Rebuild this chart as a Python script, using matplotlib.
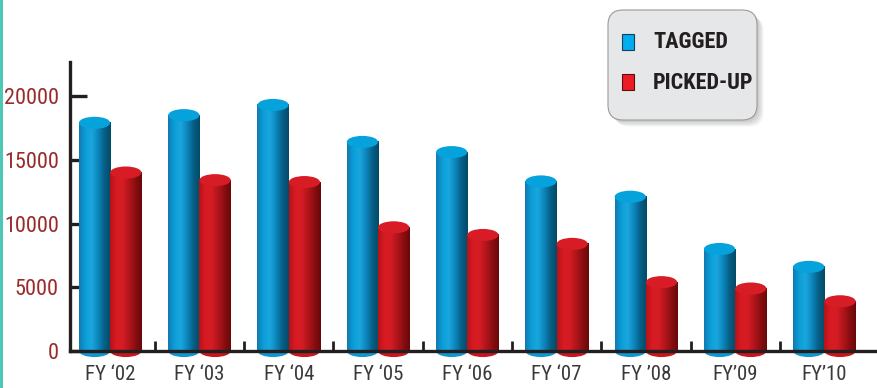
import os
import numpy as np
import matplotlib
matplotlib.use("Agg")
import matplotlib.pyplot as plt
from matplotlib import font_manager
from matplotlib.font_manager import FontProperties
from matplotlib.colors import LinearSegmentedColormap
from matplotlib.patches import Ellipse, FancyBboxPatch, Rectangle

# data
years = ["FY \u201802", "FY \u201803", "FY \u201804", "FY \u201805", "FY \u201806",
         "FY \u201807", "FY \u201908", "FY\u201909", "FY\u201910"]
tagged = [17900, 18500, 19300, 16400, 15600, 13300, 12100, 8000, 6600]
picked_up = [14000, 13400, 13250, 9700, 9100, 8400, 5400, 4900, 3900]
y_ticks = [0, 5000, 10000, 15000, 20000]


def weight_of(f):
    if isinstance(f.weight, int):
        return f.weight
    return font_manager.weight_dict.get(str(f.weight).lower(), 400)


# look for the narrowest sans installed; fall back to DejaVu Sans
def find_narrow(bold):
    scored = []
    for f in font_manager.fontManager.ttflist:
        base = os.path.basename(f.fname).lower()
        key = (f.name + " " + base).lower()
        narrow = ("narrow" in key or "condensed" in key
                  or f.stretch in ("condensed", "semi-condensed", "extra-condensed"))
        if not narrow or "italic" in key or "oblique" in key or "mono" in key:
            continue
        wt = weight_of(f)
        score = 0
        if "liberation" in key:
            score += 6
        elif "roboto" in key:
            score += 5
        elif "dejavu" in key:
            score -= 2
        if "semi" in key:
            score -= 4
        has_bold = "bold" in base and "semi" not in base and "extra" not in base
        if bold:
            score += (3 if has_bold else -6) + (1 if wt >= 700 else 0)
        else:
            score += (2 if ("regular" in base or wt == 400) else 0)
            score -= 6 if ("bold" in base or "light" in base or "thin" in base
                           or "black" in base or "medium" in base) else 0
        scored.append((score, f.fname))
    if not scored:
        return None
    scored.sort(key=lambda t: -t[0])
    return scored[0][1]


reg_file = find_narrow(False)
bold_file = find_narrow(True)
if reg_file:
    fp_y = FontProperties(fname=reg_file, size=16)
    fp_x = FontProperties(fname=reg_file, size=15)
else:
    fp_y = FontProperties(family="DejaVu Sans", size=12)
    fp_x = FontProperties(family="DejaVu Sans", size=12)
if bold_file:
    fp_leg = FontProperties(fname=bold_file, size=16, weight="bold")
else:
    fp_leg = FontProperties(family="DejaVu Sans", weight="bold", size=12)

blue_cm = LinearSegmentedColormap.from_list(
    "b", ["#1479b0", "#0a9fd9", "#1ba6dd", "#0c86bd", "#075f86", "#044a68"])
red_cm = LinearSegmentedColormap.from_list(
    "r", ["#b51319", "#d91b23", "#d41c24", "#b1151b", "#8a0e12", "#690809"])
grad = np.linspace(0, 1, 64).reshape(1, -1)

fig = plt.figure(figsize=(8.78, 3.88), dpi=100)
ax = fig.add_axes([70 / 878, 37 / 388, 808 / 878, 289 / 388])

w = 0.35
cap = 950  # ellipse height in data units


def cylinder(xc, h, cmap, top_col, bot_col):
    x0, x1 = xc - w / 2, xc + w / 2
    ax.add_patch(Ellipse((xc, 0), w, cap, facecolor=bot_col, edgecolor="none",
                         zorder=2, clip_on=False))
    ax.imshow(grad, cmap=cmap, extent=(x0, x1, 0, h), aspect="auto",
              zorder=3, interpolation="bilinear")
    ax.add_patch(Ellipse((xc, h), w, cap, facecolor=top_col, edgecolor="none",
                         zorder=4))


idx = np.arange(len(years))
for i in idx:
    cylinder(i - w / 2, tagged[i], blue_cm, "#06a2dc", "#1197d0")
    cylinder(i + w / 2, picked_up[i], red_cm, "#d81c25", "#c8161e")

ax.set_xlim(-0.45, 8.6)
ax.set_ylim(0, 22670)

for s in ["top", "right"]:
    ax.spines[s].set_visible(False)
for s in ["left", "bottom"]:
    ax.spines[s].set_linewidth(2.4)
    ax.spines[s].set_color("#231f20")
    ax.spines[s].set_zorder(5)

ax.set_yticks(y_ticks)
ax.set_yticklabels([str(v) for v in y_ticks], fontproperties=fp_y, color="#9a2b2b")
ax.tick_params(axis="y", direction="in", length=12, width=2.4, color="#231f20", pad=8)

ax.set_xticks(idx)
ax.set_xticklabels(years, fontproperties=fp_x, color="#3a3a3a")
ax.tick_params(axis="x", length=0, pad=10)
ax.set_xticks(idx[:-1] + 0.5, minor=True)
ax.tick_params(axis="x", which="minor", direction="in", length=7, width=2, color="#231f20")

# teal strip on the left edge
fig.add_artist(Rectangle((0, 0), 3 / 878, 1, transform=fig.transFigure,
                         facecolor="#4cc8b4", edgecolor="none"))

# legend box
tr = fig.dpi_scale_trans
for k in range(4):
    off = 0.02 + 0.015 * k
    fig.add_artist(FancyBboxPatch((6.08 + off, 2.68 - off), 1.49, 1.10,
                                  boxstyle="round,pad=0,rounding_size=0.15",
                                  transform=tr, facecolor="#000000", alpha=0.05,
                                  edgecolor="none"))
fig.add_artist(FancyBboxPatch((6.08, 2.68), 1.49, 1.10,
                              boxstyle="round,pad=0,rounding_size=0.15",
                              transform=tr, facecolor="#e6e7e8",
                              edgecolor="#9a9a9a", linewidth=0.8))
fig.add_artist(Rectangle((6.22, 3.38), 0.12, 0.16, transform=tr,
                         facecolor="#00aeef", edgecolor="#1c3d57", linewidth=0.8))
fig.add_artist(Rectangle((6.22, 2.98), 0.12, 0.16, transform=tr,
                         facecolor="#ed1c24", edgecolor="#5a1010", linewidth=0.8))
fig.text(6.53, 3.46, "TAGGED", transform=tr, fontproperties=fp_leg,
         color="#231f20", va="center")
fig.text(6.53, 3.05, "PICKED-UP", transform=tr, fontproperties=fp_leg,
         color="#231f20", va="center")

fig.savefig("out.png", dpi=100)
